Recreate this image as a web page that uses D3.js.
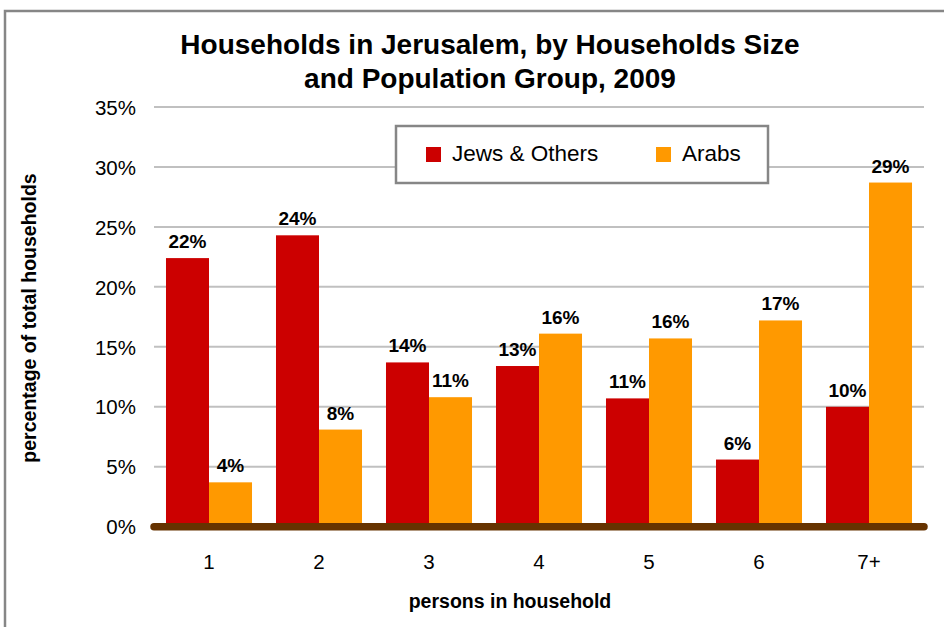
<!DOCTYPE html>
<html>
<head>
<meta charset="utf-8">
<script src="https://cdn.jsdelivr.net/npm/d3@7"></script>
<style>
  html, body { margin: 0; padding: 0; background: #fff; }
  svg { display: block; font-family: "Liberation Sans", Arial, sans-serif; }
</style>
</head>
<body>
<svg id="chart" width="944" height="627"></svg>
<script>
const categories = ["1", "2", "3", "4", "5", "6", "7+"];
const seriesNames = ["Jews & Others", "Arabs"];
const jewsValues = [22.4, 24.3, 13.7, 13.4, 10.7, 5.6, 10.0];
const arabValues = [3.7, 8.1, 10.8, 16.1, 15.7, 17.2, 28.7];
const yTicks = [0, 5, 10, 15, 20, 25, 30, 35];
const colors = ["#CC0000", "#FF9900"];

(function () {
const svg = d3.select("#chart");
const plotLeft = 154, plotRight = 924, plotTop = 107, plotBottom = 526.7;

// outer frame
svg.append("rect")
  .attr("x", 5).attr("y", 11)
  .attr("width", 1000).attr("height", 700)
  .attr("fill", "none").attr("stroke", "#868686").attr("stroke-width", 2.5);

const x = d3.scaleBand().domain(categories).range([plotLeft, plotRight])
  .paddingInner(0.218).paddingOuter(0.109);
const xs = d3.scaleBand().domain(seriesNames).range([0, x.bandwidth()]);
const y = d3.scaleLinear().domain([0, 35]).range([plotBottom, plotTop]);

// gridlines
svg.append("g").selectAll("line").data(yTicks.filter(d => d > 0)).join("line")
  .attr("x1", plotLeft).attr("x2", plotRight)
  .attr("y1", d => y(d)).attr("y2", d => y(d))
  .attr("stroke", "#C0C0C0").attr("stroke-width", 2);

// y axis labels
const yAxis = d3.axisLeft(y).tickValues(yTicks).tickFormat(d => d + "%").tickSize(0).tickPadding(0);
const gy = svg.append("g").attr("transform", `translate(136,0)`).call(yAxis);
gy.select(".domain").remove();
gy.selectAll("text").attr("font-size", 20.5).attr("fill", "#000")
  .attr("font-family", "'Liberation Sans', Arial, sans-serif").attr("dy", "0.35em");

// bars
const data = categories.map((c, i) => ({ cat: c, vals: [jewsValues[i], arabValues[i]] }));
const groups = svg.append("g").selectAll("g").data(data).join("g")
  .attr("transform", d => `translate(${x(d.cat)},0)`);
groups.selectAll("rect").data(d => d.vals.map((v, j) => ({ v, s: seriesNames[j], j }))).join("rect")
  .attr("x", d => xs(d.s)).attr("width", xs.bandwidth())
  .attr("y", d => y(d.v)).attr("height", d => y(0) - y(d.v))
  .attr("fill", d => colors[d.j]);
groups.selectAll("text").data(d => d.vals.map((v, j) => ({ v, s: seriesNames[j], j }))).join("text")
  .attr("x", d => xs(d.s) + xs.bandwidth() / 2)
  .attr("y", d => y(d.v) - 10)
  .attr("text-anchor", "middle")
  .attr("font-size", 19).attr("font-weight", "bold").attr("fill", "#000")
  .text(d => Math.round(d.v) + "%");

// x axis (brown base line)
svg.append("line")
  .attr("x1", plotLeft).attr("x2", plotRight)
  .attr("y1", y(0)).attr("y2", y(0))
  .attr("stroke", "#663300").attr("stroke-width", 7.5).attr("stroke-linecap", "round");

const xAxis = d3.axisBottom(x).tickSize(0).tickPadding(0);
const gx = svg.append("g").attr("transform", `translate(0,${y(0)})`).call(xAxis);
gx.select(".domain").remove();
gx.selectAll("text").attr("font-size", 20.5).attr("fill", "#000")
  .attr("font-family", "'Liberation Sans', Arial, sans-serif")
  .attr("y", 42).attr("dy", 0);

// title
const title = svg.append("text").attr("text-anchor", "middle")
  .attr("font-size", 28).attr("font-weight", "bold").attr("fill", "#000");
title.append("tspan").attr("x", 490).attr("y", 54).text("Households in Jerusalem, by Households Size");
title.append("tspan").attr("x", 490).attr("y", 88).text("and Population Group, 2009");

// axis titles
svg.append("text").attr("x", 510).attr("y", 608).attr("text-anchor", "middle")
  .attr("font-size", 19.5).attr("font-weight", "bold").text("persons in household");
svg.append("text").attr("transform", "translate(36,318) rotate(-90)").attr("text-anchor", "middle")
  .attr("font-size", 19.5).attr("font-weight", "bold").text("percentage of total households");

// legend
const lg = svg.append("g");
lg.append("rect").attr("x", 396).attr("y", 126).attr("width", 372).attr("height", 57)
  .attr("fill", "#fff").attr("stroke", "#868686").attr("stroke-width", 2.5);
const legendX = [426, 656];
seriesNames.forEach((s, i) => {
  lg.append("rect").attr("x", legendX[i]).attr("y", 147).attr("width", 15).attr("height", 15).attr("fill", colors[i]);
  lg.append("text").attr("x", legendX[i] + 26).attr("y", 161).attr("font-size", 22.5).attr("fill", "#000").text(s);
});
})();
</script>
</body>
</html>
